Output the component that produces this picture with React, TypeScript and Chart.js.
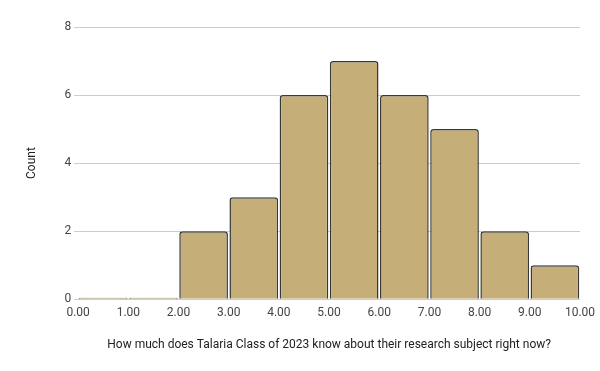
import React, { useEffect, useRef } from "react";
import { Chart, registerables } from "chart.js";

Chart.register(...registerables);

const binCenters = [0.5, 1.5, 2.5, 3.5, 4.5, 5.5, 6.5, 7.5, 8.5, 9.5];
const counts = [0, 0, 2, 3, 6, 7, 6, 5, 2, 1];
const xTitle = "How much does Talaria Class of 2023 know about their research subject right now?";
const yTitle = "Count";

export default function App() {
  const ref = useRef<HTMLCanvasElement>(null);
  useEffect(() => {
    document.body.style.margin = "0";
    const ctx = ref.current!;
    const chart = new Chart(ctx, {
      type: "bar",
      data: {
        datasets: [
          {
            data: binCenters.map((x, i) => ({ x, y: counts[i] })),
            backgroundColor: "#c5ae78",
            borderColor: "#383838",
            borderWidth: 1.5,
            borderSkipped: "start",
            borderRadius: { topLeft: 3, topRight: 3, bottomLeft: 0, bottomRight: 0 },
            barPercentage: 0.97,
            categoryPercentage: 1,
            minBarLength: 1.5,
          } as any,
        ],
      },
      options: {
        responsive: false,
        animation: false,
        layout: { padding: { left: 21, right: 0, top: 27, bottom: 15 } },
        plugins: { legend: { display: false }, tooltip: { enabled: false } },
        scales: {
          x: {
            type: "linear",
            min: 0,
            max: 10,
            offset: false,
            grid: { display: false, drawTicks: false },
            border: { display: false },
            afterFit: (s: any) => {
              s.paddingRight = 20;
            },
            ticks: {
              stepSize: 1,
              callback: (v: any) => Number(v).toFixed(2),
              color: "#444444",
              font: { family: "Roboto", size: 12 },
              padding: 7,
              maxRotation: 0,
            },
            title: {
              display: true,
              text: xTitle,
              color: "#222222",
              font: { family: "Roboto", size: 12 },
              padding: { top: 10 },
            },
          },
          y: {
            min: 0,
            max: 8,
            grid: { color: "#cccccc", tickLength: 4 },
            border: { display: false },
            ticks: {
              stepSize: 2,
              color: "#444444",
              font: { family: "Roboto", size: 12 },
              padding: 3,
            },
            title: {
              display: true,
              text: yTitle,
              color: "#222222",
              font: { family: "Roboto", size: 12 },
              padding: { bottom: 22 },
            },
          },
        },
      },
    });
    return () => chart.destroy();
  }, []);
  return (
    <div style={{ position: "absolute", left: 0, top: 0, width: 600, height: 371 }}>
      <canvas ref={ref} width={600} height={371} />
    </div>
  );
}
